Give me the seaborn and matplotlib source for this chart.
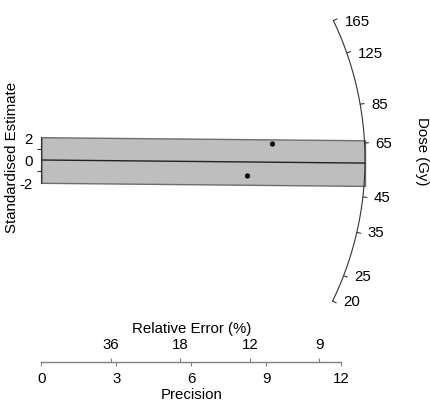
import numpy as np
import matplotlib
matplotlib.use('Agg')
import matplotlib.pyplot as plt
import seaborn as sns

# values
precision = [9.24, 8.24]          # 1 / relative standard error
std_estimate = [1.40, -1.40]      # standardised estimate
ref_dose = 57.9                   # dose at standardised estimate 0 (Gy)
central_dose = 56.7               # central dose line (Gy)
dose_ticks = [20, 25, 35, 45, 65, 85, 125, 165]
precision_ticks = [0, 3, 6, 9, 12]
rel_error_ticks = [36, 18, 12, 9]
z_ticks = [-2, 0, 2]
z_minor = [-1, 1]
band = 2

sns.set_style('ticks')
plt.rcParams['font.family'] = ['Liberation Sans', 'DejaVu Sans']
plt.rcParams['axes.unicode_minus'] = False
plt.rcParams['text.color'] = 'black'
plt.rcParams['axes.labelcolor'] = 'black'
FS = 10.8

W, H = 431, 402
fig = plt.figure(figsize=(W / 100, H / 100), dpi=100)
x0_px, y0_px, base_px = 41.5, 161.0, 363.0   # origin + bottom axis, px from top-left
sx, sy = 25.0, 11.4                          # px per data unit
R = 323.5                                    # arc radius in px
ax = fig.add_axes([x0_px / W, (H - base_px) / H, (W - x0_px) / W, base_px / H])
ax.set_xlim(0, (W - x0_px) / sx)
ax.set_ylim((y0_px - base_px) / sy, y0_px / sy)

a, b = R / sx, R / sy
z0 = np.log(ref_dose)

# +/-2 band and central line
c = np.log(central_dose) - z0
xb = np.array([0, a])
ax.fill_between(xb, c * xb - band, c * xb + band, facecolor='#BEBEBE',
                edgecolor='#6E6E6E', lw=1, zorder=1)
sns.lineplot(x=xb, y=c * xb, color='#222222', lw=1, ax=ax, zorder=2)
sns.scatterplot(x=precision, y=std_estimate, color='black', s=14,
                edgecolor='none', ax=ax, zorder=3)

# dose arc
s_ticks = np.log(dose_ticks) - z0
t_ticks = np.arctan(s_ticks * a / b)
tt = np.linspace(t_ticks.min(), t_ticks.max(), 200)
ax.plot(a * np.cos(tt), b * np.sin(tt), color='#333333', lw=0.8, clip_on=False)
for v, t in zip(dose_ticks, t_ticks):
    px, py = a * np.cos(t), b * np.sin(t)
    k = 1 + 4 / R
    ax.plot([px, px * k], [py, py * k], color='#333333', lw=0.8, clip_on=False)
    ax.annotate(str(v), xy=(px, py), xytext=(11, 0), textcoords='offset pixels',
                ha='left', va='center', fontsize=FS, color='black')

# axes
for side in ['top', 'right']:
    ax.spines[side].set_visible(False)
ax.spines['left'].set_bounds(-2, 2)
ax.spines['left'].set_color('#333333')
ax.spines['left'].set_linewidth(0.8)
ax.spines['bottom'].set_bounds(0, 12)
ax.spines['bottom'].set_color('#808080')
ax.spines['bottom'].set_linewidth(1)

ax.set_xticks(precision_ticks)
ax.set_xticklabels([str(v) for v in precision_ticks])
ax.set_yticks(z_ticks)
ax.set_yticklabels([str(v) for v in z_ticks])
ax.set_yticks(z_minor, minor=True)
ax.tick_params(axis='x', length=3, width=0.8, color='#808080', pad=3.2,
               labelsize=FS, labelcolor='black')
ax.tick_params(axis='y', which='major', length=0, pad=6.3, labelsize=FS,
               labelcolor='black')
ax.tick_params(axis='y', which='minor', left=True, length=3, width=0.8, color='#333333')

inv = lambda v: 100 / np.maximum(v, 1e-3)
sec = ax.secondary_xaxis(0, functions=(inv, inv))
sec.set_xticks(rel_error_ticks)
sec.set_xticklabels([str(v) for v in rel_error_ticks])
sec.xaxis.set_ticks_position('top')
sec.tick_params(axis='x', direction='out', length=3, width=0.8, color='#808080',
                pad=4.7, labelsize=FS, labelcolor='black', top=True, bottom=False,
                labeltop=True, labelbottom=False)
for sp in sec.spines.values():
    sp.set_visible(False)

ax.set_xlabel('Precision', fontsize=FS, va='center')
ax.xaxis.set_label_coords((192 - x0_px) / (W - x0_px), -(395 - base_px) / base_px)
ax.set_ylabel('Standardised Estimate', fontsize=FS, va='center')
ax.yaxis.set_label_coords((12 - x0_px) / (W - x0_px), (base_px - 157.5) / base_px)
fig.text(192 / W, 1 - 329 / H, 'Relative Error (%)', fontsize=FS, ha='center', va='center')
fig.text(422 / W, 1 - 151 / H, 'Dose (Gy)', fontsize=FS, rotation=-90,
         ha='center', va='center')

fig.savefig('out.png', dpi=100)
